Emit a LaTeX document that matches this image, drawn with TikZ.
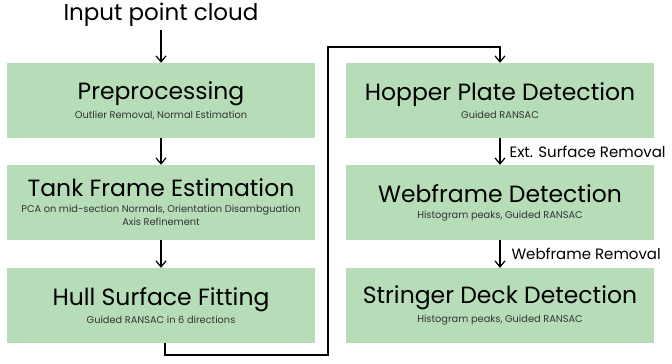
\documentclass[tikz,border=0pt]{standalone}
\usepackage{fontspec}
\setmainfont{Poppins}
\usepackage{tikz}
\usetikzlibrary{arrows.meta,positioning}
\definecolor{stagegreen}{HTML}{B6DDB8}
\definecolor{subgray}{HTML}{333333}

\begin{document}
\begin{tikzpicture}[
  x=1pt, y=-1pt,
  >={Straight Barb[length=6pt,width=10pt]},
  stage/.style={
    fill=stagegreen,
    minimum width=308pt,
    minimum height=75pt,
    inner sep=0pt,
    align=center
  },
  edge/.style={->,line width=1.2pt},
  removal/.style={font=\fontsize{15}{17}\selectfont,anchor=west,inner sep=0pt}
]
\newcommand{\stagetitle}[1]{{\fontsize{23.5}{25}\selectfont #1}}
\newcommand{\stagesub}[1]{{\fontsize{9.8}{12}\selectfont\color{subgray}#1}}
\useasboundingbox (0,0) rectangle (672,364);

\node[font=\fontsize{23}{25}\selectfont] (input) at (161,15) {Input point cloud};

\node[stage] (prep) at (161,100.5) {\stagetitle{Preprocessing}\\[4pt]\stagesub{Outlier Removal, Normal Estimation}};
\node[stage] (tank) at (161,202.5) {\stagetitle{Tank Frame Estimation}\\[4pt]\stagesub{PCA on mid-section Normals, Orientation Disambguation}\\[1pt]\stagesub{Axis Refinement}};
\node[stage] (hull) at (161,305.5) {\stagetitle{Hull Surface Fitting}\\[4pt]\stagesub{Guided RANSAC in 6 directions}};

\node[stage] (hopper) at (500,100.5) {\stagetitle{Hopper Plate Detection}\\[4pt]\stagesub{Guided RANSAC}};
\node[stage] (web) at (500,202.5) {\stagetitle{Webframe Detection}\\[4pt]\stagesub{Histogram peaks, Guided RANSAC}};
\node[stage] (stringer) at (500,305.5) {\stagetitle{Stringer Deck Detection}\\[4pt]\stagesub{Histogram peaks, Guided RANSAC}};

\coordinate (loopbot) at (328,355);
\coordinate (looptop) at (328,47);

\draw[edge] (input) -- (prep);
\draw[edge] (prep) -- (tank);
\draw[edge] (tank) -- (hull);
\draw[edge] ([xshift=4pt]hull.south) |- (loopbot) -- (looptop) -| (hopper.north);
\draw[edge] (hopper) -- node[removal,right=9pt]{Ext. Surface Removal} (web);
\draw[edge] (web) -- node[removal,right=11pt]{Webframe Removal} (stringer);
\end{tikzpicture}
\end{document}
